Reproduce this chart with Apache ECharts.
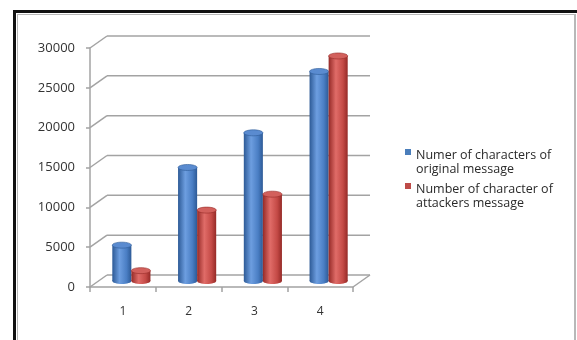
<!DOCTYPE html>
<html>
<head>
<meta charset="utf-8">
<script src="https://cdn.jsdelivr.net/npm/echarts@6/dist/echarts.min.js"></script>
<style>
  html, body { margin: 0; padding: 0; background: #fff; }
  .frame { position: absolute; box-sizing: border-box; }
  #chart { position: absolute; left: 0; top: 0; width: 577px; height: 340px; }
</style>
</head>
<body>
<div class="frame" style="left:13px;top:10px;width:564px;height:3px;background:#111;"></div>
<div class="frame" style="left:13px;top:10px;width:3px;height:330px;background:#111;"></div>
<div class="frame" style="left:17px;top:14px;width:559px;height:340px;border:1px solid #b8b8b8;border-right-width:2px;border-bottom:none;"></div>
<div id="chart"></div>
<script>
// Character counts per test message
const categories = ['1', '2', '3', '4'];
const originalChars = [4500, 14250, 18600, 26300];
const attackerChars = [1300, 8900, 10900, 28250];
const yTicks = [0, 5000, 10000, 15000, 20000, 25000, 30000];
const legendLines = [
  ['Numer of characters of', 'original message'],
  ['Number of character of', 'attackers message']
];
const seriesNames = legendLines.map(l => l.join(' '));

// pseudo-3D depth of the back wall (pixels)
const DX = 17, DY = -12;
const FONT = '"Open Sans", "Liberation Sans", sans-serif';

const chart = echarts.init(document.getElementById('chart'), null, { renderer: 'canvas' });

function wallRenderer(params, api) {
  const cs = params.coordSys;
  const v = api.value(1);
  const y = api.coord([0, v])[1];
  const x0 = cs.x, x1 = cs.x + cs.width;
  const st = { stroke: '#a3a3a3', lineWidth: 1.5 };
  const children = [
    { type: 'line', shape: { x1: x0, y1: y, x2: x0 + DX, y2: y + DY }, style: st },
    { type: 'line', shape: { x1: x0 + DX, y1: y + DY, x2: x1 + DX, y2: y + DY }, style: st }
  ];
  if (v === 0) {
    children.push({ type: 'line', shape: { x1: x1, y1: y, x2: x1 + DX, y2: y + DY }, style: st });
  }
  return { type: 'group', children: children };
}

function cylinderRenderer(side, pal) {
  return function (params, api) {
    const i = api.value(0), v = api.value(1);
    const base = api.coord([i, 0]);
    const top = api.coord([i, v]);
    const band = api.size([1, 0])[0];
    const w = band * 0.29;
    const rx = w / 2, ry = 3;
    const cx = base[0] + DX / 2 + side * rx;
    const yb = base[1] + DY / 2;
    const yt = top[1] + DY / 2;
    const body = new echarts.graphic.LinearGradient(0, 0, 1, 0, [
      { offset: 0, color: pal.edge },
      { offset: 0.38, color: pal.light },
      { offset: 0.75, color: pal.mid },
      { offset: 1, color: pal.edge }
    ]);
    return {
      type: 'group',
      children: [
        { type: 'ellipse', shape: { cx: cx, cy: yb, rx: rx, ry: ry }, style: { fill: body } },
        { type: 'rect', shape: { x: cx - rx, y: yt, width: w, height: Math.max(0, yb - yt) }, style: { fill: body } },
        { type: 'ellipse', shape: { cx: cx, cy: yt, rx: rx, ry: ry }, style: { fill: pal.top, stroke: pal.edge, lineWidth: 0.6 } }
      ]
    };
  };
}

const bluePal = { edge: '#2d5a96', light: '#6d9ee0', mid: '#4a7ec4', top: '#5a8bd0' };
const redPal = { edge: '#952a27', light: '#e06c68', mid: '#c44a46', top: '#d2605c' };

const option = {
  animation: false,
  backgroundColor: 'transparent',
  grid: { left: 90, top: 48, width: 263, height: 239, outerBoundsMode: 'none' },
  legend: {
    orient: 'vertical',
    left: 400,
    top: 143,
    itemWidth: 6,
    itemHeight: 28,
    itemGap: 6,
    icon: 'path://M0,1H6V7H0Z M0,0L0.01,0 M0,28L0.01,28',
    selectedMode: false,
    data: seriesNames,
    formatter: function (name) {
      const idx = seriesNames.indexOf(name);
      return legendLines[idx].join('\n');
    },
    textStyle: { fontFamily: FONT, fontSize: 12.5, lineHeight: 14, color: '#2a2a2a' }
  },
  xAxis: {
    type: 'category',
    data: categories,
    boundaryGap: true,
    axisLine: { show: true, lineStyle: { color: '#a3a3a3', width: 1.5 } },
    axisTick: { show: true, alignWithLabel: false, length: 5, lineStyle: { color: '#a3a3a3', width: 1.5 } },
    axisLabel: { margin: 19, fontFamily: FONT, fontSize: 12, color: '#333' },
    splitLine: { show: false }
  },
  yAxis: {
    type: 'value',
    min: 0,
    max: 30000,
    interval: 5000,
    axisLine: { show: true, lineStyle: { color: '#a3a3a3', width: 1.5 } },
    axisTick: { show: true, length: 4, lineStyle: { color: '#a3a3a3', width: 1.5 } },
    axisLabel: {
      margin: 15, fontFamily: FONT, fontSize: 13, color: '#333',
      formatter: function (v) { return String(v); }
    },
    splitLine: { show: false }
  },
  series: [
    {
      type: 'custom',
      name: 'wall',
      silent: true,
      z: 1,
      renderItem: wallRenderer,
      data: yTicks.map(v => [0, v])
    },
    {
      type: 'custom',
      name: seriesNames[0],
      color: '#4a7ebb',
      z: 3,
      renderItem: cylinderRenderer(-1, bluePal),
      data: categories.map((c, i) => [i, originalChars[i]])
    },
    {
      type: 'custom',
      name: seriesNames[1],
      color: '#be4b48',
      z: 4,
      renderItem: cylinderRenderer(1, redPal),
      data: categories.map((c, i) => [i, attackerChars[i]])
    }
  ]
};

chart.setOption(option);
</script>
</body>
</html>
